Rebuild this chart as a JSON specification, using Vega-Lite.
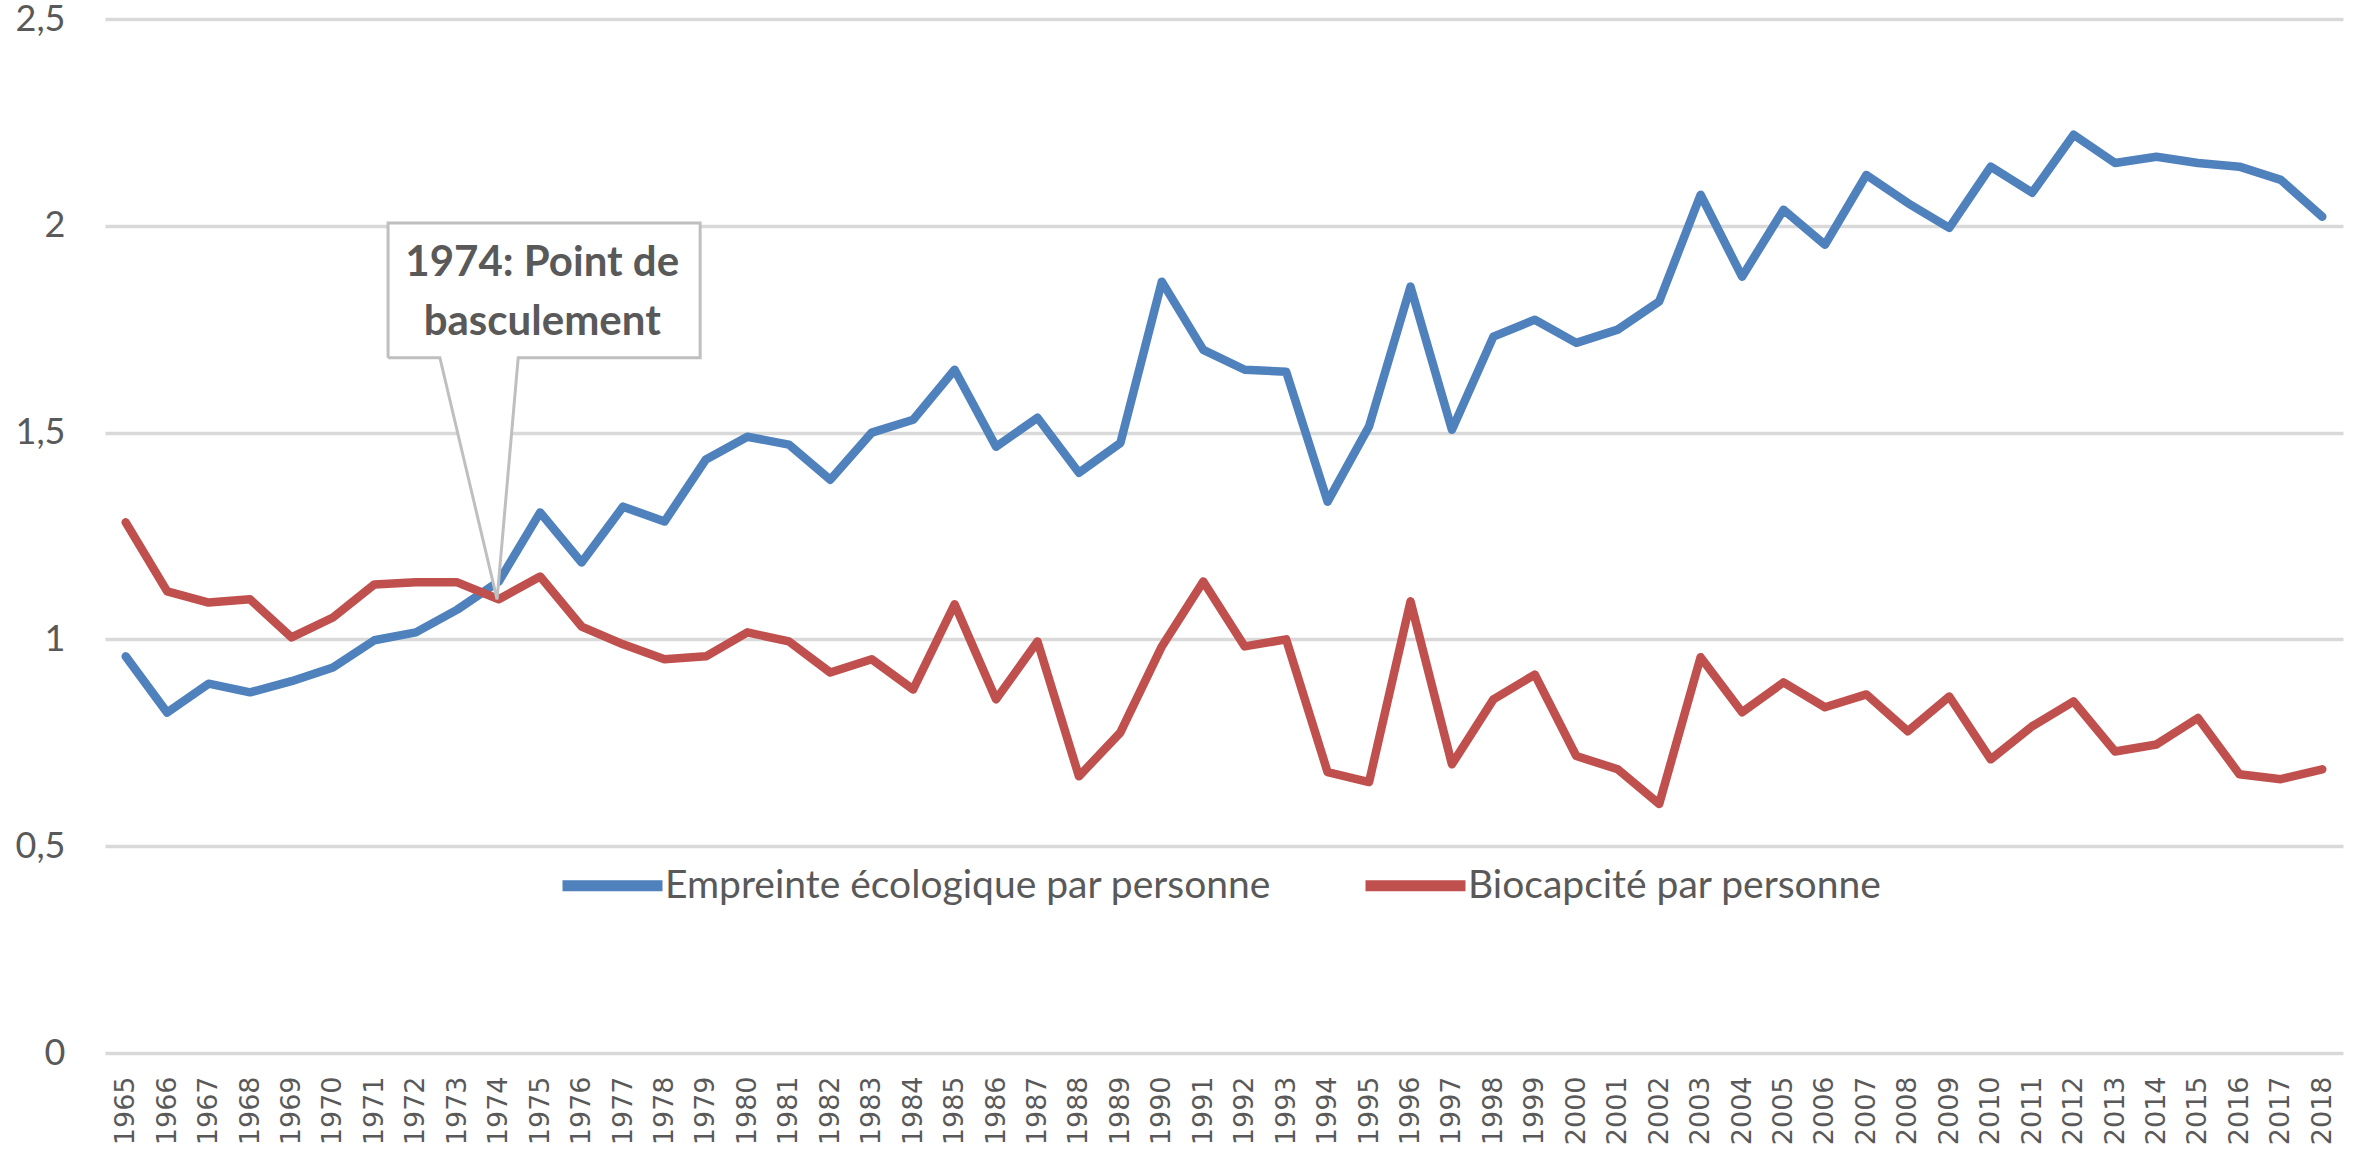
{
  "$schema": "https://vega.github.io/schema/vega-lite/v6.json",
  "width": 2238,
  "height": 1034,
  "autosize": {"type": "none"},
  "padding": {"left": 105, "top": 19, "right": 14, "bottom": 100},
  "background": "white",
  "config": {"view": {"stroke": null}},
  "datasets": {
    "series": [
      {"year": 1965, "serie": "Empreinte écologique par personne", "value": 0.959},
      {"year": 1966, "serie": "Empreinte écologique par personne", "value": 0.823},
      {"year": 1967, "serie": "Empreinte écologique par personne", "value": 0.893},
      {"year": 1968, "serie": "Empreinte écologique par personne", "value": 0.872},
      {"year": 1969, "serie": "Empreinte écologique par personne", "value": 0.899},
      {"year": 1970, "serie": "Empreinte écologique par personne", "value": 0.932},
      {"year": 1971, "serie": "Empreinte écologique par personne", "value": 0.998},
      {"year": 1972, "serie": "Empreinte écologique par personne", "value": 1.017},
      {"year": 1973, "serie": "Empreinte écologique par personne", "value": 1.072},
      {"year": 1974, "serie": "Empreinte écologique par personne", "value": 1.14},
      {"year": 1975, "serie": "Empreinte écologique par personne", "value": 1.307},
      {"year": 1976, "serie": "Empreinte écologique par personne", "value": 1.186},
      {"year": 1977, "serie": "Empreinte écologique par personne", "value": 1.321},
      {"year": 1978, "serie": "Empreinte écologique par personne", "value": 1.285},
      {"year": 1979, "serie": "Empreinte écologique par personne", "value": 1.435},
      {"year": 1980, "serie": "Empreinte écologique par personne", "value": 1.49},
      {"year": 1981, "serie": "Empreinte écologique par personne", "value": 1.471},
      {"year": 1982, "serie": "Empreinte écologique par personne", "value": 1.386},
      {"year": 1983, "serie": "Empreinte écologique par personne", "value": 1.5},
      {"year": 1984, "serie": "Empreinte écologique par personne", "value": 1.531},
      {"year": 1985, "serie": "Empreinte écologique par personne", "value": 1.652},
      {"year": 1986, "serie": "Empreinte écologique par personne", "value": 1.466},
      {"year": 1987, "serie": "Empreinte écologique par personne", "value": 1.536},
      {"year": 1988, "serie": "Empreinte écologique par personne", "value": 1.403},
      {"year": 1989, "serie": "Empreinte écologique par personne", "value": 1.475},
      {"year": 1990, "serie": "Empreinte écologique par personne", "value": 1.865},
      {"year": 1991, "serie": "Empreinte écologique par personne", "value": 1.7},
      {"year": 1992, "serie": "Empreinte écologique par personne", "value": 1.652},
      {"year": 1993, "serie": "Empreinte écologique par personne", "value": 1.647},
      {"year": 1994, "serie": "Empreinte écologique par personne", "value": 1.333},
      {"year": 1995, "serie": "Empreinte écologique par personne", "value": 1.515},
      {"year": 1996, "serie": "Empreinte écologique par personne", "value": 1.853},
      {"year": 1997, "serie": "Empreinte écologique par personne", "value": 1.507},
      {"year": 1998, "serie": "Empreinte écologique par personne", "value": 1.732},
      {"year": 1999, "serie": "Empreinte écologique par personne", "value": 1.773},
      {"year": 2000, "serie": "Empreinte écologique par personne", "value": 1.717},
      {"year": 2001, "serie": "Empreinte écologique par personne", "value": 1.749},
      {"year": 2002, "serie": "Empreinte écologique par personne", "value": 1.817},
      {"year": 2003, "serie": "Empreinte écologique par personne", "value": 2.075},
      {"year": 2004, "serie": "Empreinte écologique par personne", "value": 1.877},
      {"year": 2005, "serie": "Empreinte écologique par personne", "value": 2.039},
      {"year": 2006, "serie": "Empreinte écologique par personne", "value": 1.954},
      {"year": 2007, "serie": "Empreinte écologique par personne", "value": 2.123},
      {"year": 2008, "serie": "Empreinte écologique par personne", "value": 2.055},
      {"year": 2009, "serie": "Empreinte écologique par personne", "value": 1.995},
      {"year": 2010, "serie": "Empreinte écologique par personne", "value": 2.143},
      {"year": 2011, "serie": "Empreinte écologique par personne", "value": 2.08},
      {"year": 2012, "serie": "Empreinte écologique par personne", "value": 2.22},
      {"year": 2013, "serie": "Empreinte écologique par personne", "value": 2.152},
      {"year": 2014, "serie": "Empreinte écologique par personne", "value": 2.167},
      {"year": 2015, "serie": "Empreinte écologique par personne", "value": 2.152},
      {"year": 2016, "serie": "Empreinte écologique par personne", "value": 2.143},
      {"year": 2017, "serie": "Empreinte écologique par personne", "value": 2.111},
      {"year": 2018, "serie": "Empreinte écologique par personne", "value": 2.022},
      {"year": 1965, "serie": "Biocapcité par personne", "value": 1.283},
      {"year": 1966, "serie": "Biocapcité par personne", "value": 1.116},
      {"year": 1967, "serie": "Biocapcité par personne", "value": 1.089},
      {"year": 1968, "serie": "Biocapcité par personne", "value": 1.097},
      {"year": 1969, "serie": "Biocapcité par personne", "value": 1.005},
      {"year": 1970, "serie": "Biocapcité par personne", "value": 1.053},
      {"year": 1971, "serie": "Biocapcité par personne", "value": 1.133},
      {"year": 1972, "serie": "Biocapcité par personne", "value": 1.138},
      {"year": 1973, "serie": "Biocapcité par personne", "value": 1.138},
      {"year": 1974, "serie": "Biocapcité par personne", "value": 1.097},
      {"year": 1975, "serie": "Biocapcité par personne", "value": 1.152},
      {"year": 1976, "serie": "Biocapcité par personne", "value": 1.031},
      {"year": 1977, "serie": "Biocapcité par personne", "value": 0.988},
      {"year": 1978, "serie": "Biocapcité par personne", "value": 0.952},
      {"year": 1979, "serie": "Biocapcité par personne", "value": 0.959},
      {"year": 1980, "serie": "Biocapcité par personne", "value": 1.017},
      {"year": 1981, "serie": "Biocapcité par personne", "value": 0.995},
      {"year": 1982, "serie": "Biocapcité par personne", "value": 0.92},
      {"year": 1983, "serie": "Biocapcité par personne", "value": 0.952},
      {"year": 1984, "serie": "Biocapcité par personne", "value": 0.879},
      {"year": 1985, "serie": "Biocapcité par personne", "value": 1.085},
      {"year": 1986, "serie": "Biocapcité par personne", "value": 0.855},
      {"year": 1987, "serie": "Biocapcité par personne", "value": 0.995},
      {"year": 1988, "serie": "Biocapcité par personne", "value": 0.669},
      {"year": 1989, "serie": "Biocapcité par personne", "value": 0.775},
      {"year": 1990, "serie": "Biocapcité par personne", "value": 0.983},
      {"year": 1991, "serie": "Biocapcité par personne", "value": 1.14},
      {"year": 1992, "serie": "Biocapcité par personne", "value": 0.983},
      {"year": 1993, "serie": "Biocapcité par personne", "value": 1.0},
      {"year": 1994, "serie": "Biocapcité par personne", "value": 0.679},
      {"year": 1995, "serie": "Biocapcité par personne", "value": 0.655},
      {"year": 1996, "serie": "Biocapcité par personne", "value": 1.092},
      {"year": 1997, "serie": "Biocapcité par personne", "value": 0.698},
      {"year": 1998, "serie": "Biocapcité par personne", "value": 0.855},
      {"year": 1999, "serie": "Biocapcité par personne", "value": 0.915},
      {"year": 2000, "serie": "Biocapcité par personne", "value": 0.718},
      {"year": 2001, "serie": "Biocapcité par personne", "value": 0.686},
      {"year": 2002, "serie": "Biocapcité par personne", "value": 0.602},
      {"year": 2003, "serie": "Biocapcité par personne", "value": 0.957},
      {"year": 2004, "serie": "Biocapcité par personne", "value": 0.824},
      {"year": 2005, "serie": "Biocapcité par personne", "value": 0.896},
      {"year": 2006, "serie": "Biocapcité par personne", "value": 0.836},
      {"year": 2007, "serie": "Biocapcité par personne", "value": 0.867},
      {"year": 2008, "serie": "Biocapcité par personne", "value": 0.778},
      {"year": 2009, "serie": "Biocapcité par personne", "value": 0.862},
      {"year": 2010, "serie": "Biocapcité par personne", "value": 0.71},
      {"year": 2011, "serie": "Biocapcité par personne", "value": 0.79},
      {"year": 2012, "serie": "Biocapcité par personne", "value": 0.85},
      {"year": 2013, "serie": "Biocapcité par personne", "value": 0.729},
      {"year": 2014, "serie": "Biocapcité par personne", "value": 0.746},
      {"year": 2015, "serie": "Biocapcité par personne", "value": 0.81},
      {"year": 2016, "serie": "Biocapcité par personne", "value": 0.674},
      {"year": 2017, "serie": "Biocapcité par personne", "value": 0.662},
      {"year": 2018, "serie": "Biocapcité par personne", "value": 0.686}
    ],
    "callout": [
      {"ord": 1, "cx": 1971.33, "cy": 1.681},
      {"ord": 2, "cx": 1971.33, "cy": 2.007},
      {"ord": 3, "cx": 1978.86, "cy": 2.007},
      {"ord": 4, "cx": 1978.86, "cy": 1.681},
      {"ord": 5, "cx": 1974.47, "cy": 1.681},
      {"ord": 6, "cx": 1973.96, "cy": 1.097},
      {"ord": 7, "cx": 1972.58, "cy": 1.681},
      {"ord": 8, "cx": 1971.33, "cy": 1.681}
    ],
    "calltext": [
      {"tx": 1975.05, "ty": 1.911, "txt": "1974: Point de"},
      {"tx": 1975.05, "ty": 1.768, "txt": "basculement"}
    ]
  },
  "layer": [
    {
      "data": {"name": "series"},
      "mark": {"type": "line", "strokeWidth": 8.5, "strokeJoin": "round", "strokeCap": "round"},
      "encoding": {
        "x": {
          "field": "year", "type": "quantitative",
          "scale": {"domain": [1964.5, 2018.5], "nice": false, "zero": false},
          "axis": {
            "title": null,
            "values": [1965,1966,1967,1968,1969,1970,1971,1972,1973,1974,1975,1976,1977,1978,1979,1980,1981,1982,1983,1984,1985,1986,1987,1988,1989,1990,1991,1992,1993,1994,1995,1996,1997,1998,1999,2000,2001,2002,2003,2004,2005,2006,2007,2008,2009,2010,2011,2012,2013,2014,2015,2016,2017,2018],
            "format": "d",
            "labelAngle": -90,
            "labelFont": "DejaVu Sans",
            "labelFontSize": 27,
            "labelColor": "#595959",
            "labelPadding": 23,
            "labelOverlap": false,
            "labelFlush": false,
            "labelBound": false,
            "ticks": false,
            "domain": false,
            "grid": false
          }
        },
        "y": {
          "field": "value", "type": "quantitative",
          "scale": {"domain": [0, 2.5], "nice": false},
          "axis": {
            "title": null,
            "values": [0, 0.5, 1, 1.5, 2, 2.5],
            "format": ".1~f",
            "labelExpr": "replace(datum.label, '.', ',')",
            "labelFont": "Lato",
            "labelFontSize": 36,
            "labelColor": "#595959",
            "labelPadding": 40,
            "ticks": false,
            "domain": false,
            "grid": true,
            "gridColor": "#D9D9D9",
            "gridWidth": 3.5
          }
        },
        "color": {
          "field": "serie", "type": "nominal",
          "scale": {
            "domain": ["Empreinte écologique par personne", "Biocapcité par personne"],
            "range": ["#4F81BD", "#C0504D"]
          },
          "legend": {
            "title": null,
            "orient": "none",
            "legendX": 452,
            "legendY": 811,
            "direction": "horizontal",
            "symbolType": "stroke",
            "symbolStrokeWidth": 11,
            "symbolSize": 10000,
            "labelFont": "Lato",
            "labelFontSize": 39,
            "labelColor": "#595959",
            "labelOffset": -3,
            "labelLimit": 2000,
            "columnPadding": 71,
            "padding": 0
          }
        }
      }
    },
    {
      "data": {"name": "callout"},
      "mark": {"type": "line", "stroke": "#BFBFBF", "fill": "white", "strokeWidth": 3, "strokeJoin": "miter"},
      "encoding": {
        "x": {"field": "cx", "type": "quantitative"},
        "y": {"field": "cy", "type": "quantitative"},
        "order": {"field": "ord", "type": "quantitative"}
      }
    },
    {
      "data": {"name": "calltext"},
      "mark": {"type": "text", "font": "Lato", "fontWeight": "bold", "fontSize": 42, "color": "#595959", "align": "center", "baseline": "middle"},
      "encoding": {
        "x": {"field": "tx", "type": "quantitative"},
        "y": {"field": "ty", "type": "quantitative"},
        "text": {"field": "txt", "type": "nominal"}
      }
    }
  ]
}
